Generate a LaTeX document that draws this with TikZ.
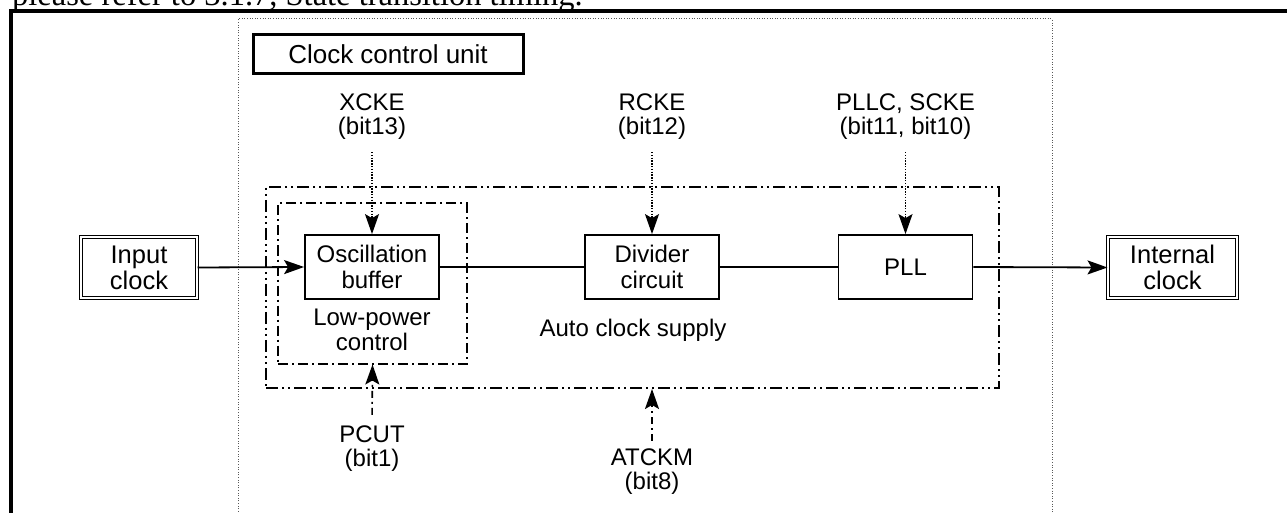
\documentclass[tikz,border=0pt]{standalone}
\usepackage{fontspec}
\setmainfont{Liberation Sans}
\newfontfamily\refserif{Liberation Serif}
\usetikzlibrary{arrows.meta}
\tikzset{
  blk/.style={draw, line width=1.8pt, minimum width=134pt, minimum height=64pt, inner sep=0pt, align=center, font=\fontsize{24}{26}\selectfont},
  iobox/.style={draw, double, double distance=1.8pt, line width=1pt, minimum height=61pt, inner sep=0pt, align=center, font=\fontsize{25.5}{26}\selectfont},
  lbl/.style={align=center, inner sep=0pt, font=\fontsize{24}{24}\selectfont},
  ddotbox/.style={draw, line width=2pt, dash pattern=on 12pt off 4pt on 2pt off 4pt on 2pt off 4pt, inner sep=0pt},
  dotbox/.style={draw, line width=2pt, dash pattern=on 10pt off 4pt on 2pt off 4pt, inner sep=0pt},
  conn/.style={line width=1.8pt},
  tip/.style={-{Stealth[length=20pt,width=14pt,inset=4pt]}},
  dotshaft/.style={line width=1.4pt, dash pattern=on 1.3pt off 1.5pt},
  dashdotshaft/.style={line width=1.6pt, dash pattern=on 7pt off 4pt on 2pt off 4pt},
}
\begin{document}
\begin{tikzpicture}[x=1pt,y=-1pt]
\useasboundingbox (0,0) rectangle (1287,513);
\begin{scope}
\clip (0,0) rectangle (1287,513);
% cut-off sentence above
\node[anchor=base west, inner sep=0pt, font=\refserif\fontsize{32.5}{32.5}\selectfont] (toptext) at (12,5.5) {please refer to 3.1.7, State transition timing.};
% outer frame
\draw[line width=3.4pt] (11,530) -- (11,11) -- (1300,11);
% clock control unit dotted region
\draw[gray!70!black, line width=1pt, dash pattern=on 1pt off 1.6pt] (238,530) -- (238,19) -- (1052,19) -- (1052,530);
\node[draw, line width=3pt, minimum width=270pt, minimum height=39pt, inner sep=0pt, font=\fontsize{26}{26}\selectfont] (ccu) at (388,54) {Clock control unit};

% dash-dot regions
\node[ddotbox, minimum width=733pt, minimum height=201pt] (acs) at (632.5,287.5) {};
\node[dotbox, minimum width=189pt, minimum height=160pt] (lp) at (372.5,283.5) {};

% blocks
\node[blk] (osc) at (372,267) {Oscillation\\buffer};
\node[blk] (div) at (652,267) {Divider\\circuit};
\node[blk] (pll) at (905.5,267) {PLL};
\node[iobox, minimum width=116pt] (in) at (139,267.5) {Input\\clock};
\node[iobox, minimum width=129pt] (out) at (1172.5,267.5) {Internal\\clock};

% texts inside regions
\node[lbl, font=\fontsize{24}{25.5}\selectfont] (lptext) at (372,330) {Low-power\\control};
\node[lbl] (acstext) at (633,330) {Auto clock supply};

% control labels
\node[lbl] (xcke) at (372,117) {XCKE\\(bit13)};
\node[lbl] (rcke) at (652,117) {RCKE\\(bit12)};
\node[lbl] (pllc) at (905.5,117) {PLLC, SCKE\\(bit11, bit10)};
\node[lbl] (pcut) at (372,449) {PCUT\\(bit1)};
\node[lbl] (atckm) at (652,472) {ATCKM\\(bit8)};

% signal path
\draw[conn, tip] (in.east) -- (osc.west);
\draw[conn] (osc.east) -- (div.west);
\draw[conn] (div.east) -- (pll.west);
\draw[conn, tip] (pll.east) -- (out.west);

% control arrows
\draw[dotshaft, tip, shorten <=12pt] (xcke.south) -- (osc.north);
\draw[dotshaft, tip, shorten <=12pt] (rcke.south) -- (div.north);
\draw[dotshaft, tip, shorten <=12pt] (pllc.south) -- (pll.north);
\draw[dashdotshaft, tip, shorten <=11pt] (pcut.north) -- (lp.south);
\draw[dashdotshaft, tip, shorten <=8pt] (atckm.north) -- (atckm.north |- acs.south);
\end{scope}
\end{tikzpicture}
\end{document}
